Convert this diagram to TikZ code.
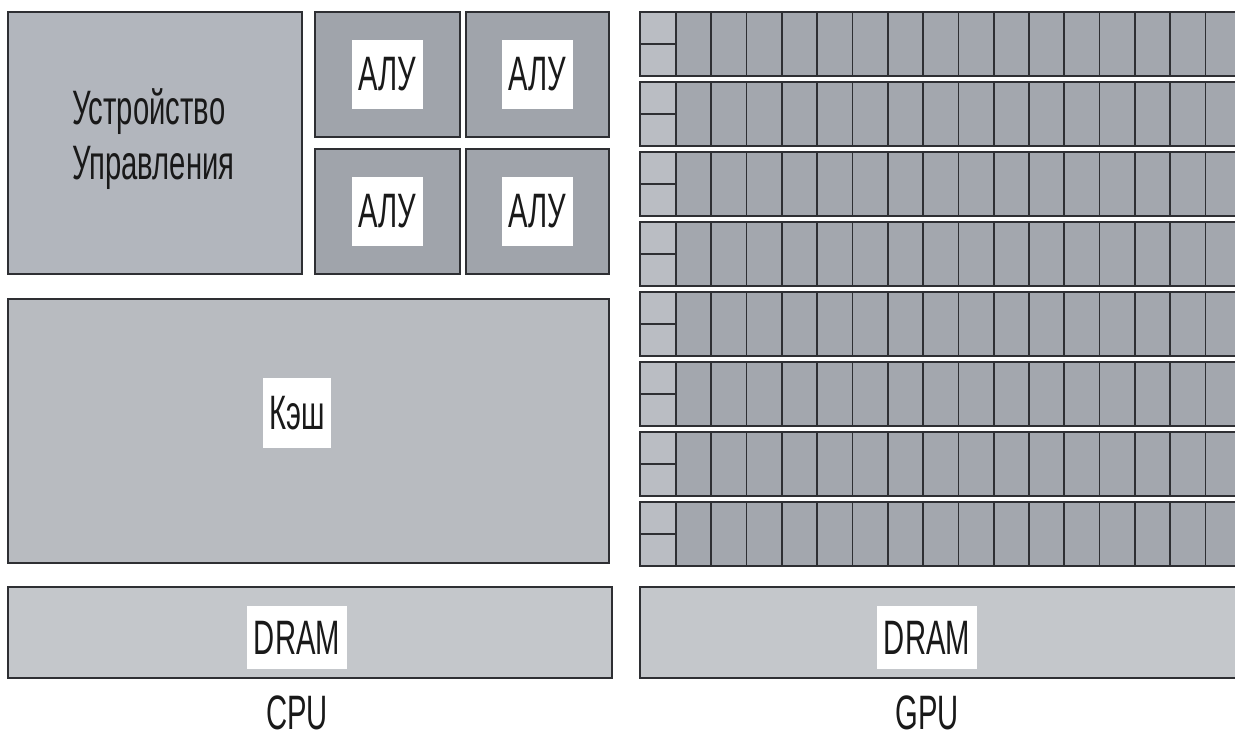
\documentclass[tikz,border=0pt]{standalone}
\usepackage{fontspec}
\setmainfont{Liberation Sans}[FakeStretch=0.605]
\usepackage{xcolor}
\usetikzlibrary{positioning}
\definecolor{cugray}{HTML}{B2B6BD}
\definecolor{alugray}{HTML}{A0A4AB}
\definecolor{cachegray}{HTML}{B8BBC0}
\definecolor{dramgray}{HTML}{C4C7CB}
\definecolor{coregray}{HTML}{A3A7AE}
\definecolor{ctlgray}{HTML}{BABDC3}
\definecolor{edge}{HTML}{2E2F33}
\tikzset{
  blk/.style={draw=edge, line width=1pt},
  tag/.style={fill=white, text=black!90, font=\fontsize{27.5}{31}\selectfont,
              inner xsep=0.13cm, inner ysep=0pt, minimum height=1.26cm},
  txt/.style={text=black!90, font=\fontsize{27.5}{31}\selectfont, inner sep=0pt},
}

\begin{document}
\begin{tikzpicture}[x=0.02cm, y=-0.02cm]
\useasboundingbox (0,0) rectangle (1235,740);
% CPU
\draw[blk, fill=cugray] (8,12) rectangle (302,274);
\node[txt, anchor=base west] (cutop) at (72,125) {Устройство};
\node[txt, anchor=base west] (cubot) at (72,180) {Управления};
\draw[blk, fill=alugray] (315,12) rectangle (460,137);
\draw[blk, fill=alugray] (466,12) rectangle (609,137);
\draw[blk, fill=alugray] (315,149) rectangle (460,274);
\draw[blk, fill=alugray] (466,149) rectangle (609,274);
\node[tag, minimum height=1.38cm] (alua) at (387.5,74.5) {АЛУ};
\node[tag, minimum height=1.38cm] (alub) at (537.5,74.5) {АЛУ};
\node[tag, minimum height=1.38cm] (aluc) at (387.5,211.5) {АЛУ};
\node[tag, minimum height=1.38cm] (alud) at (537.5,211.5) {АЛУ};
\draw[blk, fill=cachegray] (8,299) rectangle (609,563);
\node[tag, minimum height=1.4cm] (cache) at (297,413) {Кэш};
\draw[blk, fill=dramgray] (8,587) rectangle (612,678);
\node[tag] (cpudram) at (297,637.5) {DRAM};
\node[txt] (cpu) at (297,713) {CPU};
% GPU
\foreach \r in {0,...,7} {
  \pgfmathsetmacro{\top}{12+70*\r}
  \pgfmathsetmacro{\bot}{\top+64}
  \pgfmathsetmacro{\mid}{\top+32}
  \fill[coregray] (640,\top) rectangle (1236,\bot);
  \fill[ctlgray] (640,\top) rectangle (676,\bot);
  \draw[blk] (1236,\top) -- (640,\top) -- (640,\bot) -- (1236,\bot);
  \draw[blk] (640,\mid) -- (676,\mid);
  \foreach \c in {0,...,15}
    \draw[blk] ({676+35.3*\c},\top) -- ({676+35.3*\c},\bot);
}
\fill[dramgray] (640,587) rectangle (1236,678);
\draw[blk] (1236,587) -- (640,587) -- (640,678) -- (1236,678);
\node[tag] (gpudram) at (927,637.5) {DRAM};
\node[txt] (gpu) at (927,713) {GPU};
\end{tikzpicture}
\end{document}
